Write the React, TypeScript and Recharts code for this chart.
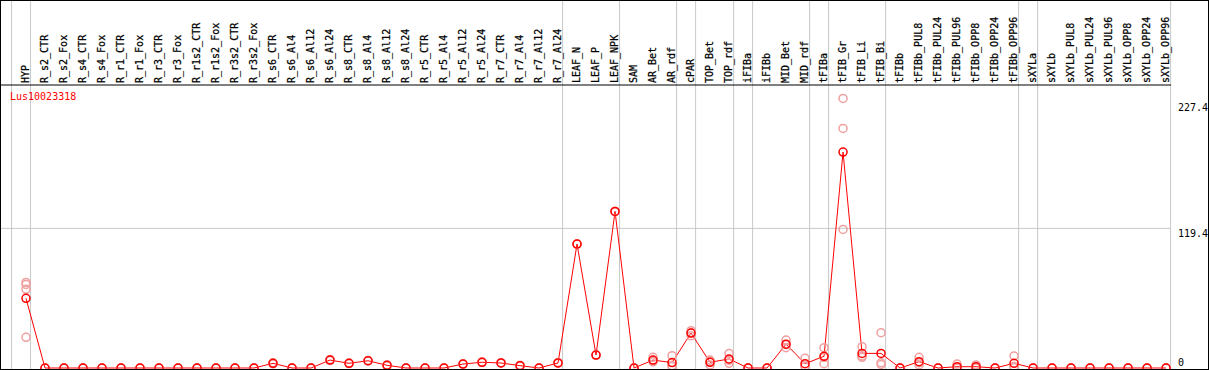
import React from 'react';
import { ComposedChart, Line, XAxis, YAxis, ReferenceLine } from 'recharts';

const categories = [
  'HYP',
  'R_s2_CTR', 'R_s2_Fox', 'R_s4_CTR', 'R_s4_Fox', 'R_r1_CTR', 'R_r1_Fox', 'R_r3_CTR', 'R_r3_Fox',
  'R_r1s2_CTR', 'R_r1s2_Fox', 'R_r3s2_CTR', 'R_r3s2_Fox',
  'R_s6_CTR', 'R_s6_Al4', 'R_s6_Al12', 'R_s6_Al24', 'R_s8_CTR', 'R_s8_Al4', 'R_s8_Al12', 'R_s8_Al24',
  'R_r5_CTR', 'R_r5_Al4', 'R_r5_Al12', 'R_r5_Al24', 'R_r7_CTR', 'R_r7_Al4', 'R_r7_Al12', 'R_r7_Al24',
  'LEAF_N', 'LEAF_P', 'LEAF_NPK',
  'SAM', 'AR_Bet', 'AR_rdf', 'cPAR', 'TOP_Bet', 'TOP_rdf', 'iFIBa', 'iFIBb', 'MID_Bet', 'MID_rdf',
  'tFIBa', 'tFIB_Gr', 'tFIB_Li', 'tFIB_Bi',
  'tFIBb', 'tFIBb_PUL8', 'tFIBb_PUL24', 'tFIBb_PUL96', 'tFIBb_OPP8', 'tFIBb_OPP24', 'tFIBb_OPP96',
  'sXYLa', 'sXYLb', 'sXYLb_PUL8', 'sXYLb_PUL24', 'sXYLb_PUL96', 'sXYLb_OPP8', 'sXYLb_OPP24', 'sXYLb_OPP96',
];

// mean expression per sample
const meanValues = [
  59.6,
  0, 0, 0, 0, 0, 0, 0, 0, 0, 0, 0, 0,
  4.0, 0, 0, 6.8, 4.0, 6.2, 2.3, 0,
  0, 0, 3.4, 4.9, 4.3, 2.0, 0, 4.3,
  106, 11.1, 133.9,
  0, 6.8, 4.6, 29.9, 4.9, 7.7, 0, 0, 20.4, 3.7,
  10, 184.6, 12.5, 12.5,
  0, 5.4, 0, 1.1, 1.1, 0, 4.0,
  0, 0, 0, 0, 0, 0, 0, 0,
];

// replicates
const rep1 = [
  73.2,
  0, 0, 0, 0, 0, 0, 0, 0, 0, 0, 0, 0,
  4.5, 0, 0, 7.2, 4.2, 6.5, 2.6, 0,
  0, 0, 3.6, 5.2, 4.5, 2.3, 0, 4.6,
  106, 11.1, 133.9,
  0, 9.1, 10.5, 31.9, 6.8, 12.5, 0, 0, 23.9, 8.3,
  17.4, 230.5, 18.2, 30.2,
  0, 9.1, 0, 3.4, 2.6, 0, 10.3,
  0, 0, 0, 0, 0, 0, 0, 0,
];

const rep2 = [
  71.5,
  0, 0, 0, 0, 0, 0, 0, 0, 0, 0, 0, 0,
  3.5, 0, 0, 6.4, 3.8, 5.9, 2.0, 0,
  0, 0, 3.2, 4.6, 4.1, 1.7, 0, 4.0,
  106, 11.1, 133.9,
  0, 6.0, 2.0, 27.6, 2.6, 4.0, 0, 0, 17.4, 1.5,
  3.7, 204.9, 9.1, 4.4,
  0, 2.6, 0, 0, 0.7, 0, 1.2,
  0, 0, 0, 0, 0, 0, 0, 0,
];

const rep3 = [
  67.3,
  0, 0, 0, 0, 0, 0, 0, 0, 0, 0, 0, 0,
  4.0, 0, 0, 6.8, 4.0, 6.2, 2.3, 0,
  0, 0, 3.4, 4.9, 4.3, 2.0, 0, 4.3,
  106, 11.1, 133.9,
  0, 5.3, 1.3, 30.2, 5.3, 6.6, 0, 0, 20.0, 1.3,
  9.0, 118.5, 10.2, 3.0,
  0, 4.5, 0, 0, 0, 0, 0.5,
  0, 0, 0, 0, 0, 0, 0, 0,
];

const rep4: (number | null)[] = categories.map((c) => (c === 'HYP' ? 26.2 : null));

// group separators (after these sample indices)
const separatorsAfter = [-1, 0, 28, 31, 34, 35, 37, 38, 41, 42, 45, 52, 53, 60];

const yTicks = [0, 119.4, 227.4];

const data = categories.map((name, i) => ({
  idx: i,
  name,
  mean: meanValues[i],
  r1: rep1[i],
  r2: rep2[i],
  r3: rep3[i],
  r4: rep4[i],
}));

const MONO = '"DejaVu Sans Mono", "Liberation Mono", monospace';
const GRID = '#c8c8c8';
const RED = '#ff0000';
const PINK = '#f0a0a0';

const CatTick = (props: any) => {
  const { x, payload } = props;
  return (
    <text
      transform={`translate(${x + 3},83) rotate(-90)`}
      fontFamily={MONO}
      fontSize={10}
      fill="#000"
      stroke="#000"
      strokeWidth={0.25}
    >
      {categories[payload.value]}
    </text>
  );
};

const ValTick = (props: any) => {
  const { y, payload } = props;
  const dy = payload.value === 0 ? -2 : 9;
  return (
    <text x={1178} y={y + dy} fontFamily={MONO} fontSize={10} fill="#000">
      {payload.value}
    </text>
  );
};

const repDot = { r: 4, stroke: PINK, strokeWidth: 1.5, fill: 'none' };

export default function App() {
  return (
    <div style={{ position: 'absolute', left: 0, top: 0, width: 1209, height: 370, overflow: 'hidden', background: '#fff' }}>
      <ComposedChart width={1209} height={378} data={data} margin={{ top: 0, right: 0, left: 1, bottom: 10 }}>
        <XAxis
          dataKey="idx"
          type="number"
          orientation="top"
          domain={[-1.3158, 60.26]}
          ticks={categories.map((_, i) => i)}
          interval={0}
          height={85}
          tick={<CatTick />}
          tickLine={false}
          axisLine={{ stroke: '#000' }}
        />
        <YAxis
          orientation="right"
          domain={[0, 242]}
          ticks={yTicks}
          width={38}
          tick={<ValTick />}
          tickLine={false}
          axisLine={false}
        />
        <ReferenceLine y={119.4} stroke={GRID} />
        {separatorsAfter.map((s) => (
          <ReferenceLine
            key={s}
            ifOverflow="visible"
            segment={[{ x: s + 0.24, y: -10 }, { x: s + 0.24, y: 330 }]}
            stroke={GRID}
          />
        ))}
        {['r1', 'r2', 'r3', 'r4'].map((k) => (
          <Line
            key={k}
            dataKey={k}
            stroke="none"
            dot={repDot}
            activeDot={false}
            isAnimationActive={false}
            connectNulls={false}
          />
        ))}
        <Line
          dataKey="mean"
          stroke={RED}
          strokeWidth={1}
          dot={{ r: 4, stroke: RED, strokeWidth: 1.5, fill: 'none' }}
          activeDot={false}
          isAnimationActive={false}
        />
      </ComposedChart>
      <div style={{ position: 'absolute', left: 10, top: 92, fontFamily: MONO, fontSize: 10, color: RED, lineHeight: 1 }}>
        Lus10023318
      </div>
      <div style={{ position: 'absolute', left: 0, top: 0, width: 1209, height: 370, boxSizing: 'border-box', border: '1px solid #000', pointerEvents: 'none' }} />
    </div>
  );
}
